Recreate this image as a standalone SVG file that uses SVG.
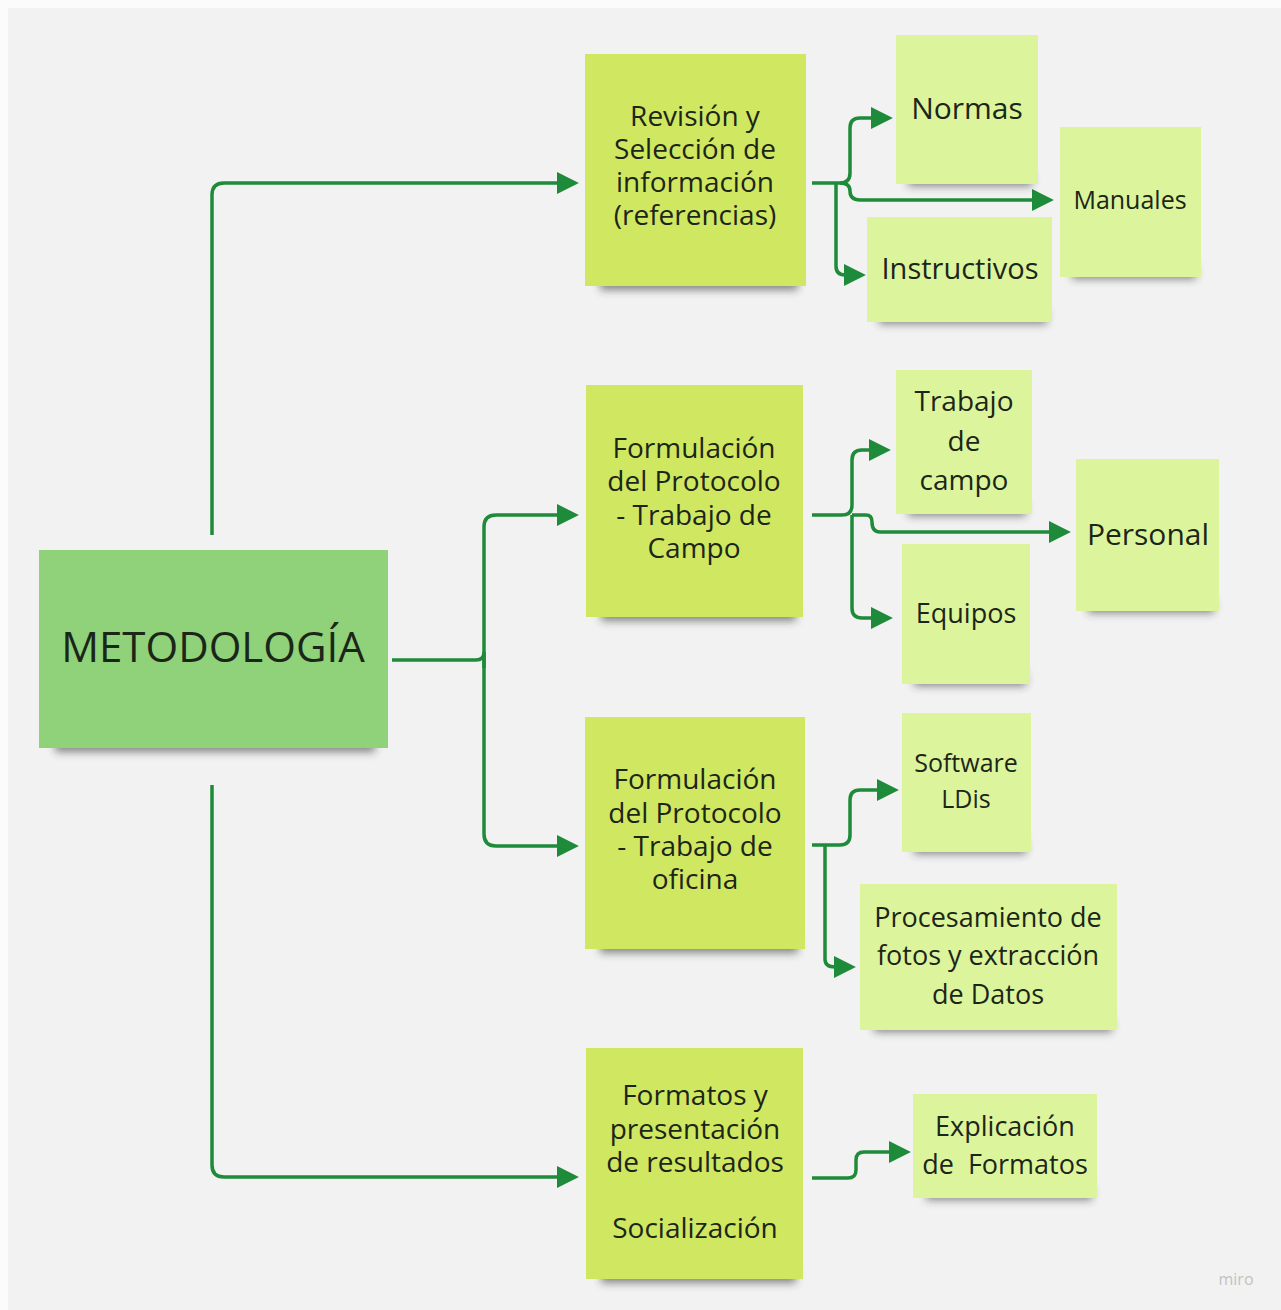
<svg xmlns="http://www.w3.org/2000/svg" width="1281" height="1310" viewBox="0 0 1281 1310">
<defs>
<filter id="blur" x="-20%" y="-100%" width="140%" height="300%"><feGaussianBlur stdDeviation="4"/></filter>
<marker id="ah" viewBox="0 0 20 20" refX="1" refY="10" markerWidth="22" markerHeight="23" markerUnits="userSpaceOnUse" orient="auto"><path d="M0,0 L20,10 L0,20 z" fill="#1e8b3a"/></marker>
</defs>
<style>
.bg{fill:#f2f2f2}
.sh{fill:#2a2a2a;opacity:.55;filter:url(#blur)}
.main{fill:#8fd27a}
.mid{fill:#d0e762}
.leaf{fill:#dcf59c}
text{font-family:"Open Sans","Noto Sans","Liberation Sans",sans-serif;fill:#1c2618;text-anchor:middle}
.c{fill:none;stroke:#1e8b3a;stroke-width:3.5;stroke-linejoin:round}
.a{marker-end:url(#ah)}
</style>
<rect width="1281" height="1310" fill="#fbfbfb"/>
<rect class="bg" x="8" y="8" width="1273" height="1302"/>

<g id="connectors">
<path class="c a" d="M212,535 V195 Q212,183 224,183 H558"/>
<path class="c a" d="M212,785 V1165 Q212,1177 224,1177 H558"/>
<path class="c" d="M392,660 H476 Q484,660 484,652"/>
<path class="c a" d="M484,668 V527 Q484,515 496,515 H558"/>
<path class="c a" d="M484,652 V834 Q484,846 496,846 H558"/>
<path class="c a" d="M812,183 H840 Q850,183 850,173 V128 Q850,118 860,118 H872"/>
<path class="c a" d="M840,183 Q850,183 850,191 Q850,200 860,200 H1033"/>
<path class="c a" d="M836,183 V266 Q836,275 845,275"/>
<path class="c a" d="M812,515 H842 Q852,515 852,505 V460 Q852,450 862,450 H870"/>
<path class="c a" d="M852,515 H866 Q872,515 872,522 Q872,532 880,532 H1050"/>
<path class="c a" d="M852,515 V608 Q852,618 862,618 H872"/>
<path class="c a" d="M812,845 H840 Q850,845 850,835 V800 Q850,790 860,790 H878"/>
<path class="c a" d="M825,845 V959 Q825,967 835,967"/>
<path class="c a" d="M812,1178 H848 Q856,1178 856,1170 V1160 Q856,1152 864,1152 H890"/>
</g>

<g id="metodologia">
<rect class="sh" x="55" y="736" width="320" height="16"/>
<rect class="main" x="39" y="550" width="349" height="198"/>
<text x="213" y="662" font-size="42">METODOLOGÍA</text>
</g>

<g id="revision">
<rect class="sh" x="600" y="274" width="198" height="16"/>
<rect class="mid" x="585" y="54" width="221" height="232"/>
<text font-size="28"><tspan x="695" y="126">Revisión y</tspan><tspan x="695" y="159">Selección de</tspan><tspan x="695" y="192">información</tspan><tspan x="695" y="225">(referencias)</tspan></text>
</g>

<g id="campo">
<rect class="sh" x="601" y="605" width="195" height="16"/>
<rect class="mid" x="586" y="385" width="217" height="232"/>
<text font-size="28"><tspan x="694" y="458">Formulación</tspan><tspan x="694" y="491">del Protocolo</tspan><tspan x="694" y="525">- Trabajo de</tspan><tspan x="694" y="558">Campo</tspan></text>
</g>

<g id="oficina">
<rect class="sh" x="600" y="937" width="198" height="16"/>
<rect class="mid" x="585" y="717" width="220" height="232"/>
<text font-size="28"><tspan x="695" y="789">Formulación</tspan><tspan x="695" y="823">del Protocolo</tspan><tspan x="695" y="856">- Trabajo de</tspan><tspan x="695" y="889">oficina</tspan></text>
</g>

<g id="formatos">
<rect class="sh" x="601" y="1267" width="195" height="16"/>
<rect class="mid" x="586" y="1048" width="217" height="231"/>
<text font-size="28"><tspan x="695" y="1105">Formatos y</tspan><tspan x="695" y="1139">presentación</tspan><tspan x="695" y="1172">de resultados</tspan><tspan x="695" y="1238">Socialización</tspan></text>
</g>

<g id="normas">
<rect class="sh" x="908" y="172" width="124" height="14"/>
<rect class="leaf" x="896" y="35" width="142" height="149"/>
<text x="967" y="119" font-size="30">Normas</text>
</g>

<g id="manuales">
<rect class="sh" x="1072" y="265" width="124" height="14"/>
<rect class="leaf" x="1060" y="127" width="141" height="150"/>
<text x="1130" y="209" font-size="25">Manuales</text>
</g>

<g id="instructivos">
<rect class="sh" x="879" y="310" width="168" height="14"/>
<rect class="leaf" x="867" y="217" width="185" height="105"/>
<text x="960" y="279" font-size="29">Instructivos</text>
</g>

<g id="trabajo-campo">
<rect class="sh" x="908" y="502" width="118" height="14"/>
<rect class="leaf" x="896" y="370" width="136" height="144"/>
<text font-size="28"><tspan x="964" y="411">Trabajo</tspan><tspan x="964" y="451">de</tspan><tspan x="964" y="490">campo</tspan></text>
</g>

<g id="personal">
<rect class="sh" x="1088" y="599" width="126" height="14"/>
<rect class="leaf" x="1076" y="459" width="143" height="152"/>
<text x="1148" y="545" font-size="30">Personal</text>
</g>

<g id="equipos">
<rect class="sh" x="914" y="672" width="112" height="14"/>
<rect class="leaf" x="902" y="544" width="128" height="140"/>
<text x="966" y="623" font-size="27">Equipos</text>
</g>

<g id="software">
<rect class="sh" x="914" y="840" width="112" height="14"/>
<rect class="leaf" x="902" y="713" width="129" height="139"/>
<text font-size="25"><tspan x="966" y="772">Software</tspan><tspan x="966" y="808">LDis</tspan></text>
</g>

<g id="procesamiento">
<rect class="sh" x="874" y="1018" width="238" height="14"/>
<rect class="leaf" x="860" y="884" width="257" height="146"/>
<text font-size="27"><tspan x="988" y="927">Procesamiento de</tspan><tspan x="988" y="965">fotos y extracción</tspan><tspan x="988" y="1004">de Datos</tspan></text>
</g>

<g id="explicacion">
<rect class="sh" x="926" y="1186" width="166" height="14"/>
<rect class="leaf" x="913" y="1094" width="184" height="104"/>
<text font-size="27" xml:space="preserve"><tspan x="1005" y="1136">Explicación</tspan><tspan x="1005" y="1174">de  Formatos</tspan></text>
</g>

<text x="1236" y="1285" font-size="16" style="fill:#c2c2c2">miro</text>
</svg>
